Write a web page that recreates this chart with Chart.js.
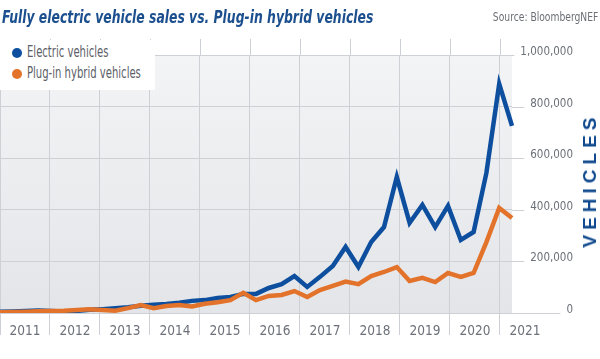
<!DOCTYPE html>
<html>
<head>
<meta charset="utf-8">
<script src="https://cdn.jsdelivr.net/npm/chart.js@4/dist/chart.umd.min.js"></script>
<style>
  html, body { margin: 0; padding: 0; background: #fff; }
  #wrap { position: relative; width: 600px; height: 359px; overflow: hidden; }
  #c { position: absolute; left: 0; top: 0; }
  .cond { font-family: 'Liberation Sans Narrow', 'DejaVu Sans Condensed', 'DejaVu Sans', sans-serif; font-stretch: condensed; }
  #title { position: absolute; left: 2px; top: 6px; font-size: 18px; font-weight: bold; font-style: italic; color: #1b4f8e; white-space: nowrap; transform: scaleX(0.765); transform-origin: 0 0; }
  #source { position: absolute; right: 2px; top: 9px; font-size: 13px; color: #6b6f75; white-space: nowrap; transform: scaleX(0.785); transform-origin: 100% 0; }
  #legend { position: absolute; left: 0; top: 40px; width: 155px; height: 50px; background: #fff; }
  .li { position: absolute; left: 12px; height: 18px; line-height: 18px; font-size: 15px; color: #5b6068; white-space: nowrap; }
  .li .t { display: inline-block; transform: scaleX(0.745); transform-origin: 0 50%; }
  .dot { display: inline-block; width: 10px; height: 10px; border-radius: 50%; margin-right: 5px; vertical-align: -1px; }
  #vert { position: absolute; left: 590px; top: 180px; transform: translate(-50%, -50%) rotate(-90deg); font-family: 'Liberation Sans', Arial, sans-serif; font-weight: bold; font-size: 19px; letter-spacing: 5px; color: #114a8e; white-space: nowrap; }
</style>
</head>
<body>
<div id="wrap">
  <canvas id="c" width="600" height="359"></canvas>
  <div id="title" class="cond">Fully electric vehicle sales vs. Plug-in hybrid vehicles</div>
  <div id="source" class="cond">Source: BloombergNEF</div>
  <div id="legend">
    <div class="li cond" style="top:3px"><span class="dot" style="background:#0d4f9e"></span><span class="t">Electric vehicles</span></div>
    <div class="li cond" style="top:24px"><span class="dot" style="background:#e3732b"></span><span class="t">Plug-in hybrid vehicles</span></div>
  </div>
  <div id="vert">VEHICLES</div>
</div>
<script>
// ---- data ----
const quarters = [
  '2011 Q1','2011 Q2','2011 Q3','2011 Q4',
  '2012 Q1','2012 Q2','2012 Q3','2012 Q4',
  '2013 Q1','2013 Q2','2013 Q3','2013 Q4',
  '2014 Q1','2014 Q2','2014 Q3','2014 Q4',
  '2015 Q1','2015 Q2','2015 Q3','2015 Q4',
  '2016 Q1','2016 Q2','2016 Q3','2016 Q4',
  '2017 Q1','2017 Q2','2017 Q3','2017 Q4',
  '2018 Q1','2018 Q2','2018 Q3','2018 Q4',
  '2019 Q1','2019 Q2','2019 Q3','2019 Q4',
  '2020 Q1','2020 Q2','2020 Q3','2020 Q4',
  '2021 Q1'
];
const electricVehicles = [
  5000, 6000, 8000, 10000,
  8000, 6000, 8000, 13000,
  15000, 18000, 22000, 28000,
  32000, 35000, 40000, 47000,
  50000, 58000, 62000, 74000,
  74000, 97000, 112000, 143000,
  101000, 140000, 182000, 256000,
  178000, 275000, 333000, 527000,
  349000, 419000, 333000, 415000,
  283000, 314000, 543000, 888000,
  725000
];
const pluginHybrids = [
  3000, 4000, 5000, 7000,
  8000, 9000, 12000, 15000,
  12000, 9000, 19000, 31000,
  19000, 27000, 31000, 25000,
  36000, 42000, 50000, 78000,
  50000, 66000, 70000, 85000,
  62000, 89000, 105000, 122000,
  112000, 143000, 159000, 178000,
  124000, 136000, 120000, 155000,
  140000, 155000, 275000, 407000,
  368000
];
const yearTicks = [2011, 2012, 2013, 2014, 2015, 2016, 2017, 2018, 2019, 2020, 2021];
const valueTicks = [0, 200000, 400000, 600000, 800000, 1000000];

const FONT = "'Liberation Sans Narrow', 'DejaVu Sans Condensed', sans-serif";
const GRID = '#cdd1d6';
const yFont = { family: FONT, size: 11.5 };
const xFont = { family: FONT, size: 13.5 };
const Y_AXIS_W = 61;

// padding so that y labels end at the right edge of the axis box
const mctx = document.createElement('canvas').getContext('2d');
mctx.font = yFont.size + 'px ' + FONT;
const widestY = mctx.measureText('1,000,000').width;
const yPad = Math.max(2, Y_AXIS_W - widestY);

const bgPlugin = {
  id: 'bg',
  beforeDraw(chart) {
    const { ctx, chartArea: a } = chart;
    const g = ctx.createLinearGradient(0, a.top, 0, a.bottom);
    g.addColorStop(0, '#f3f4f6');
    g.addColorStop(1, '#e3e5e8');
    ctx.save();
    ctx.fillStyle = g;
    ctx.fillRect(a.left, a.top, a.right - a.left, a.bottom - a.top);
    ctx.strokeStyle = GRID;
    ctx.lineWidth = 1;
    const xs = chart.scales.years;
    yearTicks.slice(1).forEach(v => {
      const px = Math.round(xs.getPixelForValue(v)) + 0.5;
      ctx.beginPath();
      ctx.moveTo(px, a.top - 16);
      ctx.lineTo(px, a.top);
      ctx.stroke();
    });
    ctx.restore();
  }
};
const gridExt = {
  id: 'gridExt',
  afterDraw(chart) {
    const { ctx, chartArea: a } = chart;
    const ys = chart.scales.y;
    ctx.save();
    ctx.font = yFont.size + 'px ' + FONT;
    ctx.strokeStyle = GRID;
    ctx.lineWidth = 1;
    ys.ticks.forEach(t => {
      const label = t.value.toLocaleString('en-US');
      const w = ctx.measureText(label).width;
      const py = Math.round(ys.getPixelForValue(t.value)) + 0.5;
      ctx.beginPath();
      ctx.moveTo(a.right, py);
      ctx.lineTo(ys.left + yPad + widestY - w - 6, py);
      ctx.stroke();
    });
    ctx.restore();
  }
};

new Chart(document.getElementById('c'), {
  type: 'line',
  data: {
    labels: quarters,
    datasets: [
      { label: 'Plug-in hybrid vehicles', data: pluginHybrids, borderColor: '#e3732b', order: 0 },
      { label: 'Electric vehicles', data: electricVehicles, borderColor: '#0d4f9e', order: 1 }
    ]
  },
  options: {
    responsive: false,
    animation: false,
    layout: { padding: { top: 55, right: 27, left: 0, bottom: 0 } },
    elements: {
      line: { borderWidth: 4.5, tension: 0, borderJoinStyle: 'miter', fill: false },
      point: { radius: 0 }
    },
    plugins: { legend: { display: false }, tooltip: { enabled: false }, title: { display: false } },
    scales: {
      x: { type: 'category', display: false, offset: false },
      years: {
        type: 'linear', position: 'bottom', min: 2011, max: 2021.24,
        afterBuildTicks(s) { s.ticks = yearTicks.map(v => ({ value: v })); },
        afterFit(s) { s.height = 46; s.paddingLeft = 0; s.paddingRight = 0; },
        grid: { color: GRID, lineWidth: 1, drawTicks: true, tickLength: 22, tickColor: GRID },
        border: { display: false },
        ticks: {
          autoSkip: false, maxRotation: 0, labelOffset: 25, padding: -12,
          color: '#6b7079', font: xFont,
          callback: v => String(v)
        }
      },
      y: {
        position: 'right', min: 0, max: 1000000,
        afterBuildTicks(s) { s.ticks = valueTicks.map(v => ({ value: v })); },
        afterFit(s) { s.width = Y_AXIS_W; s.paddingTop = 0; s.paddingBottom = 0; },
        grid: { color: GRID, lineWidth: 1, drawTicks: false },
        border: { display: false },
        ticks: {
          crossAlign: 'far', padding: yPad, labelOffset: -3,
          color: '#6b7079', font: yFont,
          callback: v => v.toLocaleString('en-US')
        }
      }
    }
  },
  plugins: [bgPlugin, gridExt]
});
</script>
</body>
</html>
